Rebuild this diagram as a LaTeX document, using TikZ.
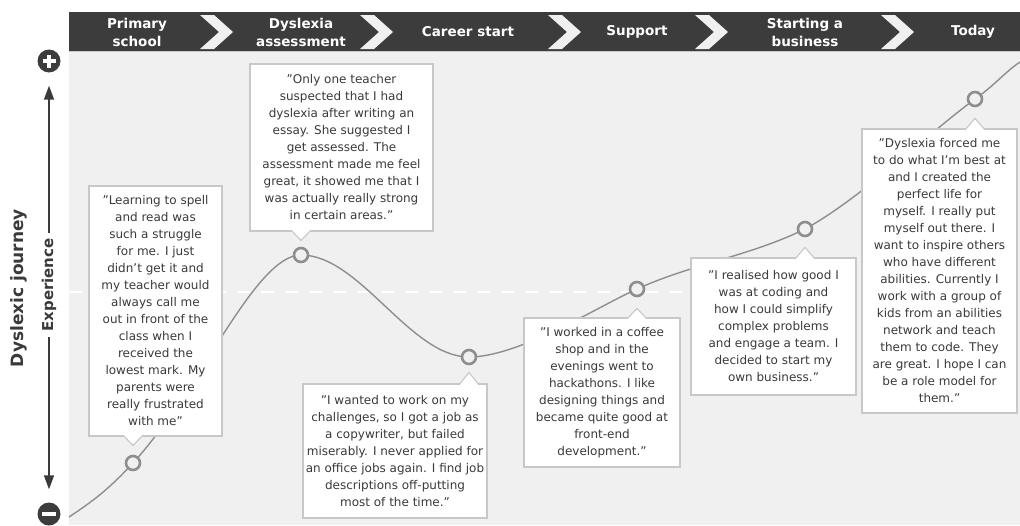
\documentclass[tikz,border=0pt]{standalone}
\usepackage{fontspec}
\setmainfont{DejaVu Sans}
\usetikzlibrary{arrows.meta,calc,backgrounds}

\definecolor{bar}{HTML}{3C3C3C}
\definecolor{panel}{HTML}{F0F0F0}
\definecolor{curve}{HTML}{8E8E8E}
\definecolor{frame}{HTML}{C8C8C8}
\definecolor{ink}{HTML}{3A3A3A}

\tikzset{
  quotebox/.style={draw=frame, line width=1.1pt, fill=white, inner sep=0pt, align=center,
    text=ink, font=\fontsize{12}{17}\selectfont},
  pointer/.style={draw=frame, line width=1.1pt, fill=white},
  stop/.style={circle, draw=curve, line width=2.6pt, fill=panel, minimum size=14pt, inner sep=0pt},
  phase/.style={text=white, align=center, font=\bfseries\fontsize{13.5}{18}\selectfont},
  sign/.style={circle, fill=bar, minimum size=23pt, inner sep=0pt},
  signbar/.style={white, line width=3.6pt},
  axis/.style={ink, line width=1.5pt, -{Triangle[width=10pt,length=14pt]},
    shorten <=2pt, shorten >=13pt},
}

\begin{document}
\begin{tikzpicture}[x=1pt,y=-1pt]
\useasboundingbox (0,0) rectangle (1020,525);

% panel, timeline bar, middle line
\begin{scope}[on background layer]
\fill[panel] (69,51) rectangle (1020,525);
\fill[bar] (69,12) rectangle (1020,51);
\draw[frame, line width=1pt] (69,51.5) -- (1020,51.5);
\draw[white, line width=2pt, dash pattern=on 13pt off 11pt] (69,292) -- (1020,292);
\end{scope}
\foreach \x in {200,360,548,695,881}
  \fill[panel] (\x,15) -- ++(14,0) -- ++(19,17) -- ++(-19,17) -- ++(-14,0) -- ++(19,-17) -- cycle;

\node[phase] (h1) at (137,32) {Primary\\school};
\node[phase] (h2) at (301,32) {Dyslexia\\assessment};
\node[phase] (h3) at (468,32) {Career start};
\node[phase] (h4) at (637,32) {Support};
\node[phase] (h5) at (805,32) {Starting a\\business};
\node[phase] (h6) at (973,32) {Today};

% axis
\node[rotate=90, text=ink, font=\bfseries\fontsize{17}{20}\selectfont] (journey) at (19,288) {Dyslexic journey};
\node[rotate=90, text=ink, font=\bfseries\fontsize{15}{18}\selectfont] (exp) at (49,285) {Experience};
\node[sign] (plus) at (49,61) {};
\draw[signbar] ($(plus)+(-6.5,0)$) -- ($(plus)+(6.5,0)$) ($(plus)+(0,-6.5)$) -- ($(plus)+(0,6.5)$);
\node[sign] (minus) at (49,514) {};
\draw[signbar] ($(minus)+(-7,0)$) -- ($(minus)+(7,0)$);
\draw[axis] (exp.east) -- (plus);
\draw[axis] (exp.west) -- (minus);

% journey
\node[stop] (p1) at (133,463) {};
\node[stop] (p2) at (301,255) {};
\node[stop] (p3) at (469,357) {};
\node[stop] (p4) at (637,289) {};
\node[stop] (p5) at (805,229) {};
\node[stop] (p6) at (975,99) {};
\coordinate (start) at (69,517);
\coordinate (end) at (1020,62);
\begin{scope}[on background layer]
\draw[curve, line width=1.4pt] (start) .. controls (93,501) and (108,490) .. (p1.center)
  .. controls (200,390) and (255,255) .. (p2.center)
  .. controls (360,255) and (410,357) .. (p3.center)
  .. controls (519,357) and (597,307) .. (p4.center)
  .. controls (692,264) and (750,256) .. (p5.center)
  .. controls (860,199) and (925,136) .. (p6.center)
  .. controls (995,85) and (1005,72) .. (end);
\end{scope}

% quotes
\node[quotebox, minimum width=133pt, minimum height=250pt] (q1) at (155.5,311)
  {"Learning to spell\\and read was\\such a struggle\\for me. I just\\didn't get it and\\my teacher would\\always call me\\out in front of the\\class when I\\received the\\lowest mark. My\\parents were\\really frustrated\\with me"};
\draw[pointer] ($(q1.south -| p1)+(-10,-1.5)$) -- ($(q1.south -| p1)+(0,9)$) -- ($(q1.south -| p1)+(10,-1.5)$);

\node[quotebox, minimum width=183pt, minimum height=167pt] (q2) at (341.5,147.5)
  {"Only one teacher\\suspected that I had\\dyslexia after writing an\\essay. She suggested I\\get assessed. The\\assessment made me feel\\great, it showed me that I\\was actually really strong\\in certain areas."};
\draw[pointer] ($(q2.south -| p2)+(-10,-1.5)$) -- ($(q2.south -| p2)+(0,9)$) -- ($(q2.south -| p2)+(10,-1.5)$);

\node[quotebox, minimum width=184pt, minimum height=134pt] (q3) at (395,451)
  {"I wanted to work on my\\challenges, so I got a job as\\a copywriter, but failed\\miserably. I never applied for\\an office jobs again. I find job\\descriptions off-putting\\most of the time."};
\draw[pointer] ($(q3.north -| p3)+(-10,1.5)$) -- ($(q3.north -| p3)+(0,-11)$) -- ($(q3.north -| p3)+(10,1.5)$);

\node[quotebox, minimum width=156pt, minimum height=149pt] (q4) at (602,392.5)
  {"I worked in a coffee\\shop and in the\\evenings went to\\hackathons. I like\\designing things and\\became quite good at\\front-end\\development."};
\draw[pointer] ($(q4.north -| p4)+(-10,1.5)$) -- ($(q4.north -| p4)+(0,-9)$) -- ($(q4.north -| p4)+(10,1.5)$);

\node[quotebox, minimum width=165pt, minimum height=137pt] (q5) at (773.5,326.5)
  {"I realised how good I\\was at coding and\\how I could simplify\\complex problems\\and engage a team. I\\decided to start my\\own business."};
\draw[pointer] ($(q5.north -| p5)+(-10,1.5)$) -- ($(q5.north -| p5)+(0,-10)$) -- ($(q5.north -| p5)+(10,1.5)$);

\node[quotebox, minimum width=155pt, minimum height=284pt] (q6) at (939.5,271)
  {"Dyslexia forced me\\to do what I'm best at\\and I created the\\perfect life for\\myself. I really put\\myself out there. I\\want to inspire others\\who have different\\abilities. Currently I\\work with a group of\\kids from an abilities\\network and teach\\them to code. They\\are great. I hope I can\\be a role model for\\them."};
\draw[pointer] ($(q6.north -| p6)+(-10,1.5)$) -- ($(q6.north -| p6)+(0,-10)$) -- ($(q6.north -| p6)+(10,1.5)$);
\end{tikzpicture}
\end{document}
